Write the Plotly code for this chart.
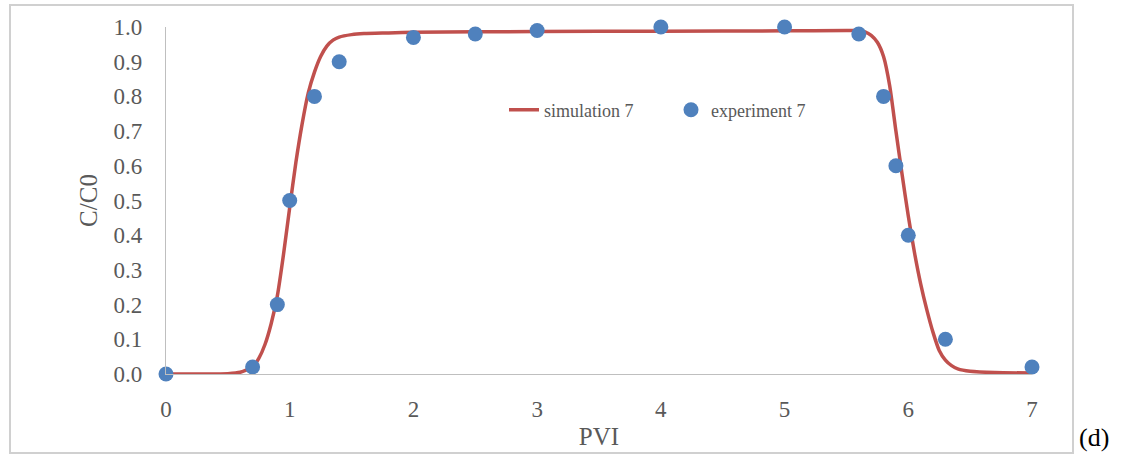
import plotly.graph_objects as go

# Simulation curve
sim_x = [0.0, 0.3, 0.5, 0.6, 0.7, 0.75, 0.8, 0.85, 0.9, 0.95, 1.0, 1.05, 1.1, 1.15,
         1.2, 1.25, 1.3, 1.35, 1.4, 1.5, 1.6, 1.8, 2.0, 3.0, 4.0, 5.0, 5.5, 5.6,
         5.65, 5.7, 5.75, 5.8, 5.85, 5.9, 5.95, 6.0, 6.05, 6.1, 6.15, 6.2, 6.25,
         6.3, 6.35, 6.4, 6.5, 6.7, 7.0]
sim_y = [0.0, 0.0, 0.001, 0.005, 0.02, 0.045, 0.085, 0.145, 0.225, 0.345, 0.48,
         0.61, 0.72, 0.81, 0.87, 0.915, 0.945, 0.962, 0.971, 0.978, 0.981, 0.983,
         0.985, 0.987, 0.988, 0.989, 0.99, 0.99, 0.986, 0.976, 0.956, 0.915, 0.83,
         0.7, 0.575, 0.455, 0.35, 0.26, 0.185, 0.12, 0.068, 0.04, 0.024, 0.015,
         0.008, 0.004, 0.003]

# Experiment points
exp_x = [0, 0.7, 0.9, 1.0, 1.2, 1.4, 2, 2.5, 3, 4, 5, 5.6, 5.8, 5.9, 6.0, 6.3, 7]
exp_y = [0.0, 0.02, 0.2, 0.5, 0.8, 0.9, 0.97, 0.98, 0.99, 1.0, 1.0, 0.98, 0.8, 0.6,
         0.4, 0.1, 0.02]

x_ticks = [0, 1, 2, 3, 4, 5, 6, 7]
y_ticks = [0.0, 0.1, 0.2, 0.3, 0.4, 0.5, 0.6, 0.7, 0.8, 0.9, 1.0]

FONT = "Liberation Serif, Times New Roman, serif"
GRAY = "#595959"

fig = go.Figure()
fig.add_trace(go.Scatter(x=sim_x, y=sim_y, mode="lines", name="simulation 7",
                         line=dict(color="#C0504D", width=3.5, shape="spline", smoothing=0.6),
                         cliponaxis=False))
fig.add_trace(go.Scatter(x=exp_x, y=exp_y, mode="markers", name="experiment 7",
                         marker=dict(color="#4F81BD", size=15), cliponaxis=False))

W, H = 1126, 463
L, R, T, B = 166, 94, 27, 89
pw, ph = W - L - R, H - T - B

def px(x):
    return (x - L) / pw

def py(y):
    return (H - B - y) / ph

fig.update_layout(
    width=W, height=H,
    margin=dict(l=L, r=R, t=T, b=B),
    paper_bgcolor="white", plot_bgcolor="white",
    font=dict(family=FONT, color=GRAY, size=22),
    showlegend=True,
    legend=dict(orientation="h", x=px(504), y=py(110), xanchor="left", yanchor="middle",
                font=dict(family=FONT, size=18, color=GRAY),
                bgcolor="rgba(0,0,0,0)", entrywidth=122, entrywidthmode="pixels"),
    xaxis=dict(range=[0, 7], tickvals=x_ticks, ticktext=[str(v) for v in x_ticks],
               showgrid=False, zeroline=False, showline=True, linecolor="#BFBFBF",
               linewidth=1.3, ticks="", ticklabelstandoff=14,
               tickfont=dict(family=FONT, size=23, color=GRAY),
               title=dict(text="PVI", font=dict(family=FONT, size=25, color=GRAY), standoff=6)),
    yaxis=dict(range=[0, 1.0], tickvals=y_ticks, ticktext=[f"{v:.1f}" for v in y_ticks],
               showgrid=False, zeroline=False, showline=True, linecolor="#BFBFBF",
               linewidth=1.3, ticks="", ticklabelstandoff=18,
               tickfont=dict(family=FONT, size=23, color=GRAY),
               title=dict(text="C/C0", font=dict(family=FONT, size=25, color=GRAY), standoff=8)),
    shapes=[dict(type="rect", xref="paper", yref="paper",
                 x0=px(10), x1=px(1073), y0=py(453), y1=py(5),
                 line=dict(color="#D0D0D0", width=2), fillcolor="rgba(0,0,0,0)")],
    annotations=[dict(text="(d)", xref="paper", yref="paper", x=px(1077), y=py(437),
                      xanchor="left", yanchor="middle", showarrow=False,
                      font=dict(family=FONT, size=26, color="black"))],
)

fig.write_html("out.html")
